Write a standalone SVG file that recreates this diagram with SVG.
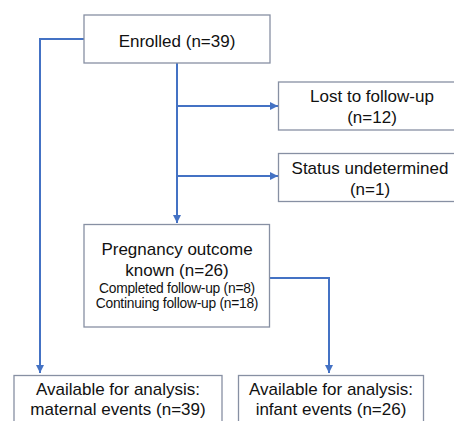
<svg xmlns="http://www.w3.org/2000/svg" width="454" height="421" viewBox="0 0 454 421">
<defs>
<style>
.box{fill:#fff;stroke:#8790a3;stroke-width:1.3}
.t{font-family:"Liberation Sans",Arial,sans-serif;font-size:17px;fill:#111;text-anchor:middle}
.s{font-family:"Liberation Sans",Arial,sans-serif;font-size:13.8px;letter-spacing:-0.25px;fill:#111;text-anchor:middle}
.c{fill:none;stroke:#4472c4;stroke-width:2}
</style>
<marker id="ah" viewBox="0 0 10 10" refX="10" refY="5" markerWidth="4" markerHeight="4" orient="auto" markerUnits="strokeWidth">
<path d="M0,0 L10,5 L0,10 z" fill="#4472c4"/>
</marker>
</defs>
<rect width="454" height="421" fill="#fff"/>
<g id="connectors">
<path class="c" d="M84,39 H40 V373" marker-end="url(#ah)"/>
<path class="c" d="M177,63 V223" marker-end="url(#ah)"/>
<path class="c" d="M177,106 H278" marker-end="url(#ah)"/>
<path class="c" d="M177,176 H278" marker-end="url(#ah)"/>
<path class="c" d="M270,278 H329 V373" marker-end="url(#ah)"/>
</g>
<g id="enrolled">
<rect class="box" x="84" y="15" width="186" height="48"/>
<text class="t" x="177" y="47">Enrolled (n=39)</text>
</g>
<g id="lost">
<rect class="box" x="278.5" y="82" width="190" height="48"/>
<text class="t" x="372" y="102">Lost to follow-up</text>
<text class="t" x="372" y="123">(n=12)</text>
</g>
<g id="status">
<rect class="box" x="278.5" y="153.5" width="190" height="48"/>
<text class="t" x="370" y="174">Status undetermined</text>
<text class="t" x="370" y="195">(n=1)</text>
</g>
<g id="pregnancy">
<rect class="box" x="84" y="224.5" width="185.5" height="102.5"/>
<text class="t" x="177" y="255">Pregnancy outcome</text>
<text class="t" x="177" y="276">known (n=26)</text>
<text class="s" x="177" y="293">Completed follow-up (n=8)</text>
<text class="s" x="177" y="308">Continuing follow-up (n=18)</text>
</g>
<g id="maternal">
<rect class="box" x="14" y="375.5" width="208" height="60"/>
<text class="t" x="118" y="395">Available for analysis:</text>
<text class="t" x="118" y="415">maternal events (n=39)</text>
</g>
<g id="infant">
<rect class="box" x="238.5" y="375.5" width="185" height="60"/>
<text class="t" x="331" y="395">Available for analysis:</text>
<text class="t" x="331" y="415">infant events (n=26)</text>
</g>
</svg>
